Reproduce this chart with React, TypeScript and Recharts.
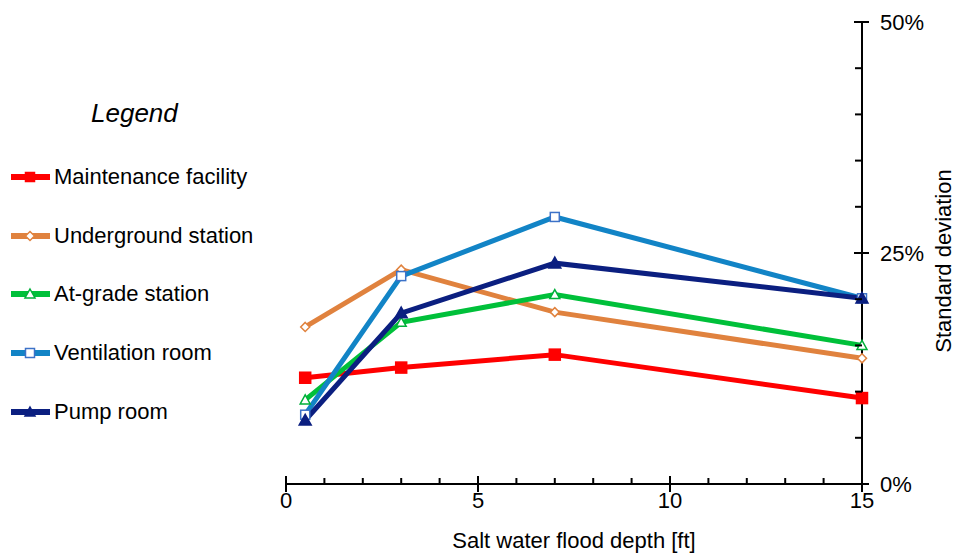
import React from "react";
import { LineChart, Line, XAxis, YAxis } from "recharts";

// flood depth [ft] and standard deviation [%] per facility
const depth = [0.5, 3, 7, 15];
const maintenance = [11.5, 12.6, 14.0, 9.3];
const underground = [17.0, 23.2, 18.6, 13.6];
const atGrade = [9.1, 17.5, 20.5, 15.0];
const ventilation = [7.5, 22.5, 28.9, 20.1];
const pump = [6.9, 18.5, 23.9, 20.1];

const xTicks = [0, 1, 2, 3, 4, 5, 6, 7, 8, 9, 10, 11, 12, 13, 14, 15];
const yTicks = [0, 5, 10, 15, 20, 25, 30, 35, 40, 45, 50];

const FONT = '"Liberation Sans", Arial, sans-serif';

type Shape = "square" | "diamond" | "triangle";

const series: {
  key: string;
  name: string;
  color: string;
  shape: Shape;
  fill: string;
  edge: string;
}[] = [
  { key: "maintenance", name: "Maintenance facility", color: "#ff0000", shape: "square", fill: "#ff0000", edge: "#ff0000" },
  { key: "underground", name: "Underground station", color: "#e0823e", shape: "diamond", fill: "#ffffff", edge: "#e0823e" },
  { key: "atGrade", name: "At-grade station", color: "#00c03a", shape: "triangle", fill: "#ffffff", edge: "#00b03a" },
  { key: "ventilation", name: "Ventilation room", color: "#1284c6", shape: "square", fill: "#ffffff", edge: "#3c72c8" },
  { key: "pump", name: "Pump room", color: "#0b1f80", shape: "triangle", fill: "#0b1f80", edge: "#0b1f80" },
];

const data = depth.map((d, i) => ({
  depth: d,
  maintenance: maintenance[i],
  underground: underground[i],
  atGrade: atGrade[i],
  ventilation: ventilation[i],
  pump: pump[i],
}));

function Marker({ shape, cx, cy, fill, stroke, big }: any) {
  if (shape === "square") {
    const s = big ? 5.5 : 4.5;
    return (
      <rect x={cx - s} y={cy - s} width={s * 2} height={s * 2} fill={fill} stroke={stroke} strokeWidth={1.5} />
    );
  }
  if (shape === "diamond") {
    const s = 4.5;
    return (
      <polygon
        points={`${cx},${cy - s} ${cx + s},${cy} ${cx},${cy + s} ${cx - s},${cy}`}
        fill={fill}
        stroke={stroke}
        strokeWidth={1.5}
      />
    );
  }
  const s = big ? 6 : 5;
  return (
    <polygon
      points={`${cx},${cy - s} ${cx + s},${cy + s * 0.8} ${cx - s},${cy + s * 0.8}`}
      fill={fill}
      stroke={stroke}
      strokeWidth={1.5}
    />
  );
}

function XTick({ x, y, payload }: any) {
  const major = payload.value % 5 === 0;
  return (
    <g>
      <line x1={x} x2={x} y1={major ? y - 8 : y - 6} y2={major ? y + 8 : y} stroke="#000" strokeWidth={2} />
      {major && (
        <text x={x} y={y + 24} textAnchor="middle" fontSize={22} fontFamily={FONT} fill="#000">
          {payload.value}
        </text>
      )}
    </g>
  );
}

function YTick({ x, y, payload }: any) {
  const major = payload.value % 25 === 0;
  return (
    <g>
      <line x1={major ? x - 8 : x - 7} x2={major ? x + 7 : x} y1={y} y2={y} stroke="#000" strokeWidth={2} />
      {major && (
        <text x={x + 18} y={y + 8} textAnchor="start" fontSize={22} fontFamily={FONT} fill="#000">
          {payload.value}%
        </text>
      )}
    </g>
  );
}

function YTitle({ viewBox }: any) {
  const cx = viewBox.x + viewBox.width - 6;
  const cy = viewBox.y + viewBox.height / 2 + 8;
  return (
    <text
      x={cx}
      y={cy}
      transform={`rotate(-90 ${cx} ${cy})`}
      textAnchor="middle"
      fontSize={22}
      fontFamily={FONT}
      fill="#000"
    >
      Standard deviation
    </text>
  );
}

function XTitle({ viewBox }: any) {
  return (
    <text
      x={viewBox.x + viewBox.width / 2}
      y={viewBox.y + viewBox.height - 5}
      textAnchor="middle"
      fontSize={22}
      fontFamily={FONT}
      fill="#000"
    >
      Salt water flood depth [ft]
    </text>
  );
}

function ChartLegend() {
  return (
    <div style={{ position: "absolute", left: 0, top: 0, width: 280, height: 553, fontFamily: FONT }}>
      <div style={{ position: "absolute", left: 91, top: 98, fontSize: 26, fontStyle: "italic", color: "#000" }}>
        Legend
      </div>
      {series.map((s, i) => (
        <div
          key={s.key}
          style={{ position: "absolute", left: 10, top: 163 + i * 58.7, height: 28, display: "flex", alignItems: "center" }}
        >
          <svg width={42} height={28}>
            <line x1={1} x2={40} y1={14} y2={14} stroke={s.color} strokeWidth={6} />
            <Marker shape={s.shape} cx={20} cy={14} fill={s.fill} stroke={s.edge} />
          </svg>
          <span style={{ fontSize: 22, color: "#000", marginLeft: 2, whiteSpace: "nowrap" }}>{s.name}</span>
        </div>
      ))}
    </div>
  );
}

export default function App() {
  return (
    <div style={{ position: "absolute", left: 0, top: 0, width: 957, height: 553, background: "#fff" }}>
      <LineChart width={957} height={553} data={data} margin={{ top: 22, right: 0, bottom: 0, left: 286 }}>
        <XAxis
          dataKey="depth"
          type="number"
          domain={[0, 15]}
          ticks={xTicks}
          interval={0}
          height={69}
          tickSize={0}
          tickMargin={0}
          tickLine={false}
          axisLine={{ stroke: "#000", strokeWidth: 2 }}
          tick={<XTick />}
          label={<XTitle />}
        />
        <YAxis
          orientation="right"
          type="number"
          domain={[0, 50]}
          ticks={yTicks}
          interval={0}
          width={95}
          tickSize={0}
          tickMargin={0}
          tickLine={false}
          axisLine={{ stroke: "#000", strokeWidth: 2 }}
          tick={<YTick />}
          label={<YTitle />}
        />
        {series.map((s) => (
          <Line
            key={s.key}
            dataKey={s.key}
            name={s.name}
            type="linear"
            stroke={s.color}
            strokeWidth={5}
            isAnimationActive={false}
            dot={(p: any) => (
              <Marker key={`${s.key}-${p.index}`} shape={s.shape} cx={p.cx} cy={p.cy} fill={s.fill} stroke={s.edge} big={s.fill !== "#ffffff"} />
            )}
            activeDot={false}
          />
        ))}
      </LineChart>
      <ChartLegend />
    </div>
  );
}
